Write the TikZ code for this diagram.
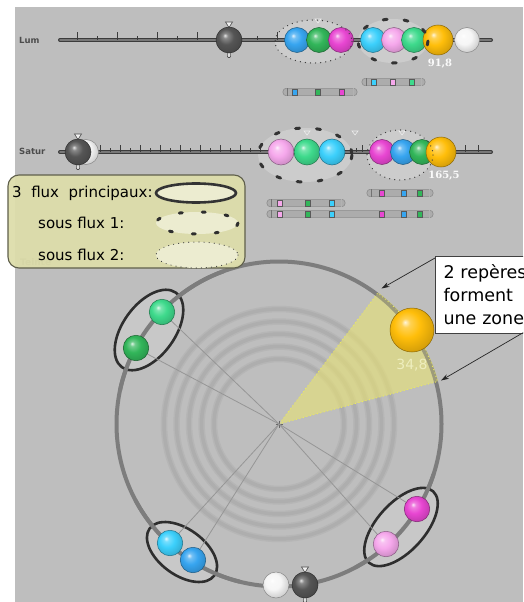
\documentclass[tikz,border=0pt]{standalone}
\usepackage{fontspec}
\setmainfont{DejaVu Sans}
\newfontfamily\numfont{DejaVu Serif}
\usetikzlibrary{arrows.meta,shapes.geometric}

% palette
\definecolor{bg}{RGB}{190,190,190}
\definecolor{grpfill}{RGB}{204,204,204}
\definecolor{barDark}{RGB}{60,60,60}
\definecolor{barLight}{RGB}{120,120,120}
\definecolor{ringsoft}{RGB}{182,182,182}
\definecolor{ringc}{RGB}{174,174,174}
\definecolor{spokec}{RGB}{150,150,150}
\definecolor{circc}{RGB}{125,125,125}
\definecolor{minib}{RGB}{172,172,172}
\definecolor{minibd}{RGB}{140,140,140}
\definecolor{legfill}{RGB}{221,221,170}
\definecolor{legdraw}{RGB}{95,95,75}
\definecolor{legell}{RGB}{236,236,208}
\definecolor{blueB}{RGB}{55,165,240}
\definecolor{greenB}{RGB}{50,182,90}
\definecolor{magB}{RGB}{232,70,210}
\definecolor{cyanB}{RGB}{60,208,252}
\definecolor{pinkB}{RGB}{246,168,236}
\definecolor{mintB}{RGB}{62,218,140}
\definecolor{orangeB}{RGB}{255,190,10}
\definecolor{whiteB}{RGB}{246,246,246}
\definecolor{darkB}{RGB}{85,85,85}
\definecolor{zonec}{RGB}{232,226,118}
\definecolor{zoneedge}{RGB}{236,236,90}
\definecolor{valc}{RGB}{238,238,190}

% sphere shading driven by the colour sphcol
\colorlet{sphcol}{gray}
\pgfdeclareradialshading[sphcol]{sphere}{\pgfpoint{-8bp}{9bp}}{%
  color(0bp)=(sphcol!15!white); color(5bp)=(sphcol!70!white);
  color(15bp)=(sphcol); color(30bp)=(sphcol!82!black);
  color(50bp)=(sphcol!82!black)}

\tikzset{
  sph/.style={circle, inner sep=0pt, minimum size=25pt, shade, shading=sphere,
    draw=#1!55!black, line width=0.5pt, /utils/exec={\colorlet{sphcol}{#1}}},
  rowlabel/.style={font=\bfseries\fontsize{8.5}{10}\selectfont, text=black!70, inner sep=0pt},
  barout/.style={barDark, line width=4pt, line cap=round},
  barin/.style={barLight, line width=1.6pt, line cap=round},
  tickmark/.style={barDark, line width=0.7pt},
  dotted1/.style={black!75, line width=1.3pt, line cap=round, dash pattern=on 0.1pt off 5pt},
  dashthick/.style={black!80, line width=3pt, line cap=round, dash pattern=on 4pt off 17pt},
  ringwide/.style={ringsoft, line width=6.5pt},
  ring/.style={ringc, line width=3.5pt},
  spoke/.style={spokec, line width=0.8pt},
  wheel/.style={circc, line width=4pt},
  flux/.style={draw=black!82, fill=grpfill, fill opacity=0.75, line width=2.6pt},
  legtext/.style={font=\fontsize{15}{18}\selectfont, inner sep=0pt, anchor=west},
  notebox/.style={draw=black!75, fill=white, line width=1pt, align=left,
    inner xsep=8pt, inner ysep=3pt, text width=110pt, minimum height=77pt,
    font=\fontsize{17.5}{23}\selectfont},
  pointer/.style={black!85, line width=0.7pt, -{Stealth[length=8pt,width=5pt]}},
  marker/.style={draw=white!85!gray, line width=0.6pt},
  knob/.pic={
    \filldraw[fill=gray!12, draw=black!70, line width=0.6pt] (-3.5,-18)--(3.5,-18)--(0,-12.5)--cycle;
    \filldraw[fill=gray!25, draw=black!70, line width=0.6pt, rounded corners=1pt] (-1.6,11) rectangle (1.6,17.5);
  }
}

% small colour mark on a mini slider
\newcommand\sqm[3]{\filldraw[fill=#3, draw=black!65, line width=0.5pt] (#1-2.3,#2-3.2) rectangle (#1+2.3,#2+3.2);}
% mini slider body
\newcommand\minibar[3]{%
  \filldraw[fill=minib, draw=minibd, line width=0.6pt, rounded corners=3pt] (#1,#3-3.6) rectangle (#2,#3+3.6);
  \draw[black!55, line width=0.6pt] (#1+4,#3-3.6)--(#1+4,#3+3.6);
  \draw[black!30, line width=0.6pt] (#2-4,#3-3.6)--(#2-4,#3+3.6);}

\begin{document}
\begin{tikzpicture}[x=1pt,y=-1pt]
\clip (0,0) rectangle (523,602);
\fill[white] (0,0) rectangle (523,602);
\fill[bg] (15,7) rectangle (523,602);

% ---------------- luminance slider ----------------
\node[rowlabel, anchor=west] (lumlbl) at (19,40) {Lum};
\fill[grpfill] (313.5,41.5) ellipse [x radius=38.5, y radius=21.5];
\fill[grpfill] (393,41) ellipse [x radius=35, y radius=22];
\draw[barout] (60,40) -- (491,40);
\draw[barin] (60,40) -- (491,40);
\foreach \x in {77,117,...,277} {\draw[tickmark] (\x,40) -- (\x,32);}
\foreach \x in {97,137,...,257} {\draw[tickmark] (\x,40) -- (\x,36);}
\draw[marker] (315,19)--(321,19)--(318,23)--cycle;
\pic at (229,40) {knob};
\node[sph=darkB, minimum size=26pt] (lumknob) at (229,40) {};
\node[sph=blueB]  (l1) at (297,40) {};
\node[sph=greenB] (l2) at (319,40) {};
\node[sph=magB]   (l3) at (341,40) {};
\node[sph=cyanB]  (l4) at (373,40) {};
\node[sph=pinkB]  (l5) at (394,40) {};
\node[sph=mintB]  (l6) at (414,40) {};
\node[sph=orangeB, minimum size=30pt] (l7) at (438,40) {};
\node[sph=whiteB] (l8) at (467,40) {};
\draw[dotted1] (313.5,41.5) ellipse [x radius=38.5, y radius=21.5];
\draw[dashthick] (393,41) ellipse [x radius=35, y radius=22];
\node[font=\numfont\bfseries\fontsize{10}{12}\selectfont, text=white!96!gray, inner sep=0pt] (lumval) at (440,64) {91,8};
\minibar{362}{425}{82}
\foreach \x/\c in {374/cyanB,393/pinkB,412/mintB} {\sqm{\x}{82}{\c}}
\minibar{283}{357}{92}
\foreach \x/\c in {295/blueB,318/greenB,342/magB} {\sqm{\x}{92}{\c}}

% ---------------- saturation slider ----------------
\node[rowlabel, anchor=west] (satlbl) at (19,151) {Satur};
\fill[grpfill] (305,155) ellipse [x radius=47, y radius=27];
\fill[grpfill] (400,155) ellipse [x radius=33, y radius=25];
\draw[barout] (60,152) -- (491,152);
\draw[barin] (60,152) -- (491,152);
\foreach \x in {100,120,...,260} {\draw[tickmark] (\x,152) -- (\x,145);}
\foreach \x in {110,130,...,250} {\draw[tickmark] (\x,152) -- (\x,148);}
\foreach \x in {362,465,478} {\draw[tickmark] (\x,152) -- (\x,145);}
\draw[tickmark] (356,152) -- (356,148);
\foreach \x in {307,355,402} {\draw[marker] (\x-3,131)--(\x+3,131)--(\x,135)--cycle;}
\pic at (78,152) {knob};
\node[sph=whiteB] (satghost) at (86,152) {};
\node[sph=darkB, minimum size=26pt] (satknob) at (78,152) {};
\node[sph=pinkB, minimum size=26pt]  (s1) at (281,152) {};
\node[sph=mintB, minimum size=26pt]  (s2) at (307,152) {};
\node[sph=cyanB, minimum size=26pt]  (s3) at (332,152) {};
\node[sph=magB]   (s4) at (382,152) {};
\node[sph=blueB]  (s5) at (403,152) {};
\node[sph=greenB] (s6) at (422,152) {};
\node[sph=orangeB, minimum size=30pt] (s7) at (441,152) {};
\draw[dashthick] (305,155) ellipse [x radius=47, y radius=27];
\draw[dotted1] (400,155) ellipse [x radius=33, y radius=25];
\node[font=\numfont\bfseries\fontsize{10}{12}\selectfont, text=white!96!gray, inner sep=0pt] (satval) at (444,176) {165,5};
\minibar{367}{433}{193}
\foreach \x/\c in {382/magB,404/blueB,420/greenB} {\sqm{\x}{193}{\c}}
\minibar{267}{345}{203}
\foreach \x/\c in {280/pinkB,308/greenB,332/cyanB} {\sqm{\x}{203}{\c}}
\minibar{267}{433}{214}
\foreach \x/\c in {280/pinkB,308/greenB,332/cyanB,382/magB,404/blueB,420/greenB} {\sqm{\x}{214}{\c}}

% ---------------- hue wheel ----------------
\coordinate (ctr) at (279,424);
\foreach \r in {65,77.5,90,102.5,115} {\draw[ringwide] (ctr) circle [radius=\r];}
\foreach \r in {65,77.5,90,102.5,115} {\draw[ring] (ctr) circle [radius=\r];}
\fill[zonec, fill opacity=0.45] (ctr) -- ++(-15:162.5) arc [start angle=-15, end angle=-53, radius=162.5] -- cycle;
\draw[wheel] (ctr) circle [radius=162.5];
\fill[zonec, fill opacity=0.3] (ctr) -- ++(-15:165) arc [start angle=-15, end angle=-53, radius=165] -- cycle;
\draw[zoneedge, line width=1.2pt, line cap=round, dash pattern=on 0.1pt off 3.5pt]
  (ctr) -- ++(-15:164) arc [start angle=-15, end angle=-53, radius=164] -- cycle;
\draw[black!60, line width=0.8pt] (275.5,424)--(282.5,424) (279,420.5)--(279,427.5);

\coordinate (pg1) at (162,312);
\coordinate (pg2) at (136,348);
\coordinate (pc1) at (170,543);
\coordinate (pc2) at (193,560);
\coordinate (pm1) at (417,509);
\coordinate (pm2) at (386,544);

% flux ellipses, with the wheel and spokes showing through them
\node[flux, ellipse, minimum width=92pt, minimum height=52pt, rotate=54] (fluxA) at (149,330) {};
\node[flux, ellipse, minimum width=80pt, minimum height=46pt, rotate=-36] (fluxB) at (182,552) {};
\node[flux, ellipse, minimum width=96pt, minimum height=48pt, rotate=48] (fluxC) at (401,527) {};
\draw[wheel] (ctr) ++(-110:162.5) arc [start angle=-110, end angle=-168, radius=162.5];
\draw[wheel] (ctr) ++(-208:162.5) arc [start angle=-208, end angle=-256, radius=162.5];
\draw[wheel] (ctr) ++(-298:162.5) arc [start angle=-298, end angle=-342, radius=162.5];
\foreach \p in {pg1,pg2,pc1,pc2,pm1,pm2} {\draw[spoke] (ctr) -- (\p);}

\node[sph=mintB, minimum size=25.5pt]  (h1) at (pg1) {};
\node[sph=greenB, minimum size=25.5pt] (h2) at (pg2) {};
\node[sph=cyanB, minimum size=25.5pt]  (h3) at (pc1) {};
\node[sph=blueB, minimum size=25.5pt]  (h4) at (pc2) {};
\node[sph=magB, minimum size=25.5pt]   (h5) at (pm1) {};
\node[sph=pinkB, minimum size=25.5pt]  (h6) at (pm2) {};
\node[sph=whiteB, minimum size=26pt] (hwhite) at (276,585) {};
\pic at (305,585) {knob};
\node[sph=darkB, minimum size=26pt] (hknob) at (305,585) {};
\node[sph=orangeB, minimum size=44pt] (hsel) at (412,330) {};
\node[font=\fontsize{14}{16}\selectfont, text=valc, inner sep=0pt] (hval) at (412,365) {34,8};

% ---------------- legend ----------------
\node[font=\bfseries\fontsize{9}{10}\selectfont, text=black!60, anchor=west, inner sep=0pt] (hueLbl) at (20,262) {Teinte};
\filldraw[fill=legfill, fill opacity=0.94, draw=legdraw, line width=1.1pt, rounded corners=11pt] (8,175) rectangle (245,268);
\node[legtext] (lg1) at (12,193) {3\ \ flux\ \ principaux:};
\node[legtext] (lg2) at (38,223) {sous flux 1:};
\node[legtext] (lg3) at (38,255) {sous flux 2:};
\filldraw[fill=legell, draw=black!80, line width=2.6pt] (196,193) ellipse [x radius=40, y radius=9.5];
\fill[legell] (197,223) ellipse [x radius=41, y radius=11];
\draw[black!82, line width=3pt, line cap=round, dash pattern=on 3pt off 20pt] (197,223) ellipse [x radius=41, y radius=11];
\fill[legell] (197,255) ellipse [x radius=41, y radius=13];
\draw[dotted1, line width=1.1pt] (197,255) ellipse [x radius=41, y radius=13];

% ---------------- note ----------------
\node[notebox, anchor=north west] (note) at (435,256) {2 repères\\forment\\une zone};
\coordinate (tipA) at (381.5,288.5);
\coordinate (tipB) at (441,380.5);
\coordinate (noteB) at (526,331);
\draw[pointer] (note.north west) ++(0,2) -- (tipA);
\draw[pointer] (noteB) -- (tipB);
\end{tikzpicture}
\end{document}
